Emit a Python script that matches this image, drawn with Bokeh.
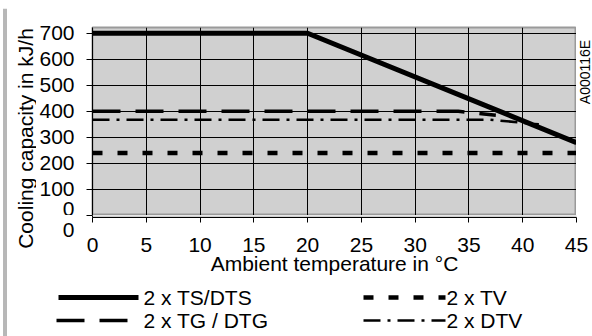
import math
from bokeh.plotting import figure
from bokeh.layouts import column, row
from bokeh.models import Range1d, FixedTicker
from bokeh.core.properties import value
from bokeh.embed import file_html
from bokeh.resources import INLINE

# ---- data ----
x_ticks = [0, 5, 10, 15, 20, 25, 30, 35, 40, 45]
y_ticks = [0, 100, 200, 300, 400, 500, 600, 700]

ts_x = [0, 20, 45]
ts_y = [700, 700, 280]
tg_x = [0, 34, 37.5]
tg_y = [400, 400, 385]
dtv_x = [0, 37, 41.5]
dtv_y = [368, 368, 350]
tv_x = [0, 45]
tv_y = [240, 240]

series_labels = ["2 x TS/DTS", "2 x TG / DTG", "2 x TV", "2 x DTV"]
x_title = "Ambient temperature in °C"
y_title = "Cooling capacity in kJ/h"
code_text = "A000116E"

FONT = "Liberation Sans"
FS = "21px"
PLOT_BG = "#d0d0d0"


def blank(w, h, xr, yr):
    f = figure(width=w, height=h, x_range=Range1d(*xr), y_range=Range1d(*yr),
               x_axis_type=None, y_axis_type=None, output_backend="svg",
               toolbar_location=None, min_border=0)
    f.outline_line_color = None
    f.background_fill_color = "white"
    f.border_fill_color = "white"
    f.frame_align = False
    return f


def style_y(ax, ticks):
    ax.ticker = FixedTicker(ticks=ticks)
    ax.axis_line_color = "black"
    ax.major_tick_line_color = "black"
    ax.minor_tick_line_color = None
    ax.major_tick_in = 0
    ax.major_tick_out = 6
    ax.major_label_standoff = 12
    ax.major_label_text_font = FONT
    ax.major_label_text_font_size = FS
    ax.major_label_text_color = "black"


x_rng = Range1d(0, 45)

# ---- main chart (plot area + y axis) ----
p = figure(width=540, height=207, x_range=x_rng, y_range=Range1d(0, 722),
           x_axis_location=None, output_backend="svg", toolbar_location=None,
           min_border_left=56, min_border_right=0, min_border_top=19, min_border_bottom=0)
p.frame_align = False
p.background_fill_color = PLOT_BG
p.border_fill_color = "white"
p.outline_line_color = "#9a9a9a"
p.outline_line_width = 2

p.xgrid.ticker = FixedTicker(ticks=x_ticks)
p.ygrid.ticker = FixedTicker(ticks=y_ticks)
for g in (p.xgrid, p.ygrid):
    g.grid_line_color = "black"
    g.grid_line_width = 1
    g.grid_line_alpha = 1.0

style_y(p.yaxis, y_ticks)

p.line(tv_x, tv_y, line_color="black", line_width=4.5, line_dash="10 15")
p.line(dtv_x, dtv_y, line_color="black", line_width=2.5, line_dash="17 7 3 7")
p.line(tg_x, tg_y, line_color="black", line_width=3.5, line_dash="28 15")
p.line(ts_x, ts_y, line_color="black", line_width=5)

# ---- x axis (own strip so the last tick label has room) ----
# its y range continues the main one just below zero, so the lower half of the
# "0" label is drawn here, exactly where the main chart's one is cut
xa = figure(width=556, height=67, x_range=x_rng, y_range=Range1d(-1, 0),
            output_backend="svg", toolbar_location=None,
            min_border_left=56, min_border_right=16, min_border_top=0, min_border_bottom=65)
xa.frame_align = False
xa.background_fill_color = PLOT_BG
xa.border_fill_color = "white"
xa.outline_line_color = None
xa.xgrid.visible = False
xa.ygrid.visible = False
style_y(xa.yaxis, [y_ticks[0]])
xa.xaxis.ticker = FixedTicker(ticks=x_ticks)
xa.xaxis.axis_line_color = "black"
xa.xaxis.major_tick_line_color = "black"
xa.xaxis.minor_tick_line_color = None
xa.xaxis.major_tick_in = 0
xa.xaxis.major_tick_out = 5
xa.xaxis.major_label_standoff = 15
xa.xaxis.major_label_text_font = FONT
xa.xaxis.major_label_text_font_size = FS
xa.xaxis.major_label_text_color = "black"
xa.xaxis.axis_label = x_title
xa.xaxis.axis_label_text_font = FONT
xa.xaxis.axis_label_text_font_size = FS
xa.xaxis.axis_label_text_font_style = "normal"
xa.xaxis.axis_label_text_color = "black"
xa.xaxis.axis_label_standoff = -3

# ---- y title strip (left of chart) ----
yt = blank(28, 274, (0, 28), (274, 0))
yt.text(x=[17], y=[130], text=[y_title], angle=math.pi / 2,
        text_font=value(FONT), text_font_size=value(FS),
        text_align="center", text_baseline="middle", text_color="black")

# ---- drawing code strip (right of chart) ----
cd = blank(16, 207, (0, 16), (207, 0))
cd.text(x=[8], y=[63.5], text=[code_text], angle=math.pi / 2,
        text_font=value(FONT), text_font_size=value("14px"),
        text_align="center", text_baseline="middle", text_color="black")

# ---- legend strip ----
lg = blank(584, 54, (0, 584), (54, 0))
lg.line([50, 130], [15, 15], line_color="black", line_width=5)
lg.line([48, 130], [38, 38], line_color="black", line_width=3.5, line_dash="28 15")
lg.line([355, 437], [15, 15], line_color="black", line_width=4.5, line_dash="10 15")
lg.line([355, 437], [38, 38], line_color="black", line_width=2.5, line_dash="17 7 3 7")
lg.text(x=[135, 135, 438, 438], y=[15, 38, 15, 38], text=series_labels,
        text_font=value(FONT), text_font_size=value(FS),
        text_align="left", text_baseline="middle", text_color="black")

# ---- outer frame lines (top and left) ----
top = blank(592, 8, (0, 592), (8, 0))
top.line([3, 592], [6.5, 6.5], line_color="#303030", line_width=1.5)
top.line([3.5, 3.5], [6, 8], line_color="#707070", line_width=1)
top.line([5.5, 5.5], [6, 8], line_color="#707070", line_width=1)

left = blank(8, 328, (0, 8), (328, 0))
left.line([3.5, 3.5], [0, 328], line_color="#707070", line_width=1)
left.line([5.5, 5.5], [0, 328], line_color="#707070", line_width=1)

chart = row(yt, column(row(p, cd), xa))
layout = column(top, row(left, column(chart, lg)))
open("out.html", "w").write(file_html(layout, INLINE))
